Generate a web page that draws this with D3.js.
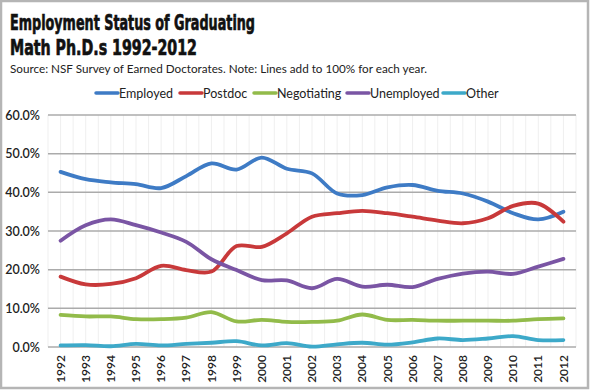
<!DOCTYPE html>
<html><head><meta charset="utf-8">
<script src="https://cdn.jsdelivr.net/npm/d3@7"></script>
<style>
body{margin:0;background:#fff;}
svg{display:block;}
</style></head>
<body>
<svg id="chart" width="590" height="390"></svg>
<script>
const years = ["1992","1993","1994","1995","1996","1997","1998","1999","2000","2001","2002","2003","2004","2005","2006","2007","2008","2009","2010","2011","2012"];
const employed    = [45.3,43.4,42.6,42.1,41.1,44.2,47.5,45.9,49.0,46.1,44.9,39.7,39.3,41.3,41.9,40.4,39.7,37.6,34.6,33.0,35.0];
const postdoc     = [18.2,16.2,16.3,17.8,21.0,19.9,19.5,26.1,25.9,29.4,33.7,34.6,35.2,34.6,33.7,32.7,32.0,33.3,36.5,37.1,32.4];
const negotiating = [8.3,7.9,7.9,7.2,7.2,7.6,9.0,6.6,7.0,6.5,6.5,6.8,8.4,7.0,7.0,6.8,6.8,6.8,6.8,7.2,7.4];
const unemployed  = [27.5,31.5,33.0,31.5,29.6,27.2,22.7,19.9,17.3,17.2,15.2,17.6,15.6,16.1,15.5,17.6,19.0,19.5,18.9,20.8,22.8];
const other       = [0.4,0.5,0.2,0.8,0.4,0.8,1.1,1.5,0.4,1.0,0.1,0.7,1.1,0.6,1.2,2.2,1.8,2.2,2.8,1.8,1.8];
const seriesNames = ["Employed","Postdoc","Negotiating","Unemployed","Other"];
const seriesColors = ["#3e7bc5","#c8393a","#92bb4a","#7a55a4","#3da9c9"];
const yTicks = [0,10,20,30,40,50,60];

const seriesData = [employed, postdoc, negotiating, unemployed, other];
const svg = d3.select("#chart");
const W = 590, H = 390;

// outer frame
svg.append("rect").attr("x",1).attr("y",1).attr("width",W-3).attr("height",H-3)
  .attr("fill","#fff").attr("stroke","#b5b5b5").attr("stroke-width",2.5);

// titles
const tfont = "'Liberation Sans Narrow','DejaVu Sans Condensed','Liberation Sans',sans-serif";
svg.append("text").attr("x",10).attr("y",30).text("Employment Status of Graduating")
  .attr("font-family",tfont).attr("font-weight","bold").attr("font-size",22).attr("fill","#111")
  .attr("stroke","#111").attr("stroke-width",0.7)
  .attr("textLength",245).attr("lengthAdjust","spacingAndGlyphs");
svg.append("text").attr("x",10).attr("y",55).text("Math Ph.D.s 1992-2012")
  .attr("font-family",tfont).attr("font-weight","bold").attr("font-size",22).attr("fill","#111")
  .attr("stroke","#111").attr("stroke-width",0.7)
  .attr("textLength",187).attr("lengthAdjust","spacingAndGlyphs");
svg.append("text").attr("x",10).attr("y",73)
  .text("Source: NSF Survey of Earned Doctorates. Note: Lines add to 100% for each year.")
  .attr("font-family","Lato, 'Open Sans', sans-serif").attr("font-size",12).attr("fill","#222")
  .attr("textLength",417).attr("lengthAdjust","spacingAndGlyphs");

// scales
const x = d3.scaleBand().domain(years).range([48,576]);
const y = d3.scaleLinear().domain([0,60]).range([347,115]);
const cx = d => x(d) + x.bandwidth()/2;

// minor vertical gridlines (half-step)
const vg = svg.append("g");
years.forEach(yr => {
  [cx(yr) - x.bandwidth()/2, cx(yr)].forEach(px => {
    vg.append("line").attr("x1",px).attr("x2",px).attr("y1",115).attr("y2",347)
      .attr("stroke","#efefef").attr("stroke-width",1);
  });
});
vg.append("line").attr("x1",576).attr("x2",576).attr("y1",115).attr("y2",347)
  .attr("stroke","#efefef").attr("stroke-width",1);

// horizontal gridlines
svg.append("g").selectAll("line").data(yTicks).join("line")
  .attr("x1",48).attr("x2",576).attr("y1",d=>y(d)).attr("y2",d=>y(d))
  .attr("stroke","#ababab").attr("stroke-width",1.5);

// y axis labels
const yAxis = d3.axisLeft(y).tickValues(yTicks).tickFormat(d => d.toFixed(1)+"%").tickSize(0).tickPadding(0);
const gy = svg.append("g").attr("transform","translate(40,0)").call(yAxis);
gy.select(".domain").remove();
gy.selectAll("text").attr("font-family","Lato, sans-serif").attr("font-size",12.5)
  .attr("font-weight",600).attr("fill","#222");

// x axis labels
const xAxis = d3.axisBottom(x).tickSize(0).tickPadding(0);
const gx = svg.append("g").attr("transform","translate(0,354)").call(xAxis);
gx.select(".domain").remove();
gx.selectAll("text").attr("font-family","Lato, sans-serif").attr("font-size",12)
  .attr("font-weight",600).attr("fill","#222")
  .attr("transform","rotate(-90)").attr("text-anchor","end").attr("dy","0.35em").attr("x",-1).attr("y",0);

// lines
const line = d3.line().x((d,i)=>cx(years[i])).y(d=>y(d)).curve(d3.curveCatmullRom.alpha(0.5));
seriesData.forEach((s,i) => {
  svg.append("path").datum(s).attr("d",line).attr("fill","none")
    .attr("stroke",seriesColors[i]).attr("stroke-width",3.8).attr("stroke-linecap","round").attr("stroke-linejoin","round");
});

// legend
const legX = [96,180,254,347,443];
const lg = svg.append("g");
seriesNames.forEach((n,i) => {
  lg.append("line").attr("x1",legX[i]).attr("x2",legX[i]+22).attr("y1",93).attr("y2",93)
    .attr("stroke",seriesColors[i]).attr("stroke-width",3.5).attr("stroke-linecap","round");
  lg.append("text").attr("x",legX[i]+23).attr("y",97.5).text(n)
    .attr("font-family","Lato, sans-serif").attr("font-size",12.5).attr("fill","#222");
});
</script>
</body></html>
